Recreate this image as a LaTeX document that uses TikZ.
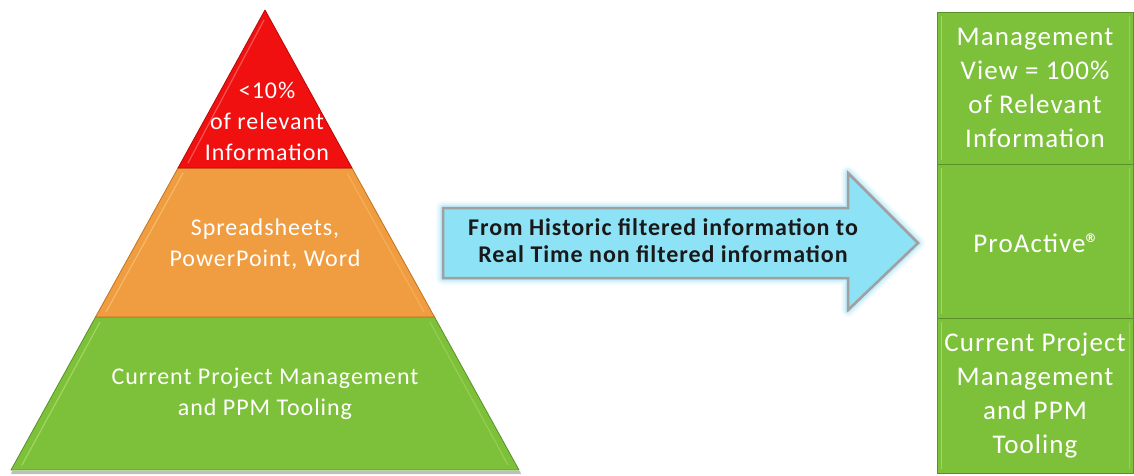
\documentclass[tikz,border=0pt]{standalone}
\usepackage{fontspec}
\setmainfont{Carlito}[LetterSpace=4]
\newfontfamily\symfont{DejaVu Sans}
\definecolor{redL}{HTML}{F01010}
\definecolor{redD}{HTML}{B80808}
\definecolor{oraL}{HTML}{F09C40}
\definecolor{oraD}{HTML}{C07420}
\definecolor{oraH}{HTML}{F8C878}
\definecolor{grnL}{HTML}{7DC03A}
\definecolor{grnD}{HTML}{5A9028}
\definecolor{grnH}{HTML}{B4E070}
\definecolor{arrF}{HTML}{8EE2F6}
\definecolor{arrG}{HTML}{5CC8F0}
\definecolor{arrB}{HTML}{A0A0A0}
\begin{document}
\begin{tikzpicture}[x=1pt,y=-1pt,
  layer/.style={line width=0.8pt,line join=round},
  bevel/.style={line width=1.2pt,opacity=0.7,line join=round},
  lbl/.style={text=white,font=\fontsize{24}{31}\selectfont,align=center,inner sep=0pt},
  boxlbl/.style={text=white,font=\fontsize{27}{34}\selectfont,align=center,inner sep=0pt},
  arrlbl/.style={text=black!90,font=\bfseries\fontsize{24}{27}\selectfont,align=center,inner sep=0pt},
  gbox/.style={fill=grnL,draw=grnD,line width=1pt}]
\useasboundingbox (0,0) rectangle (1134,475);
% pyramid shadow
\fill[black,opacity=0.25] (12,471) -- (520,471) -- (521,474) -- (11,474) -- cycle;
% layers
\draw[layer,fill=grnL,draw=grnD] (95.5,317) -- (434.5,317) -- (519,470) -- (11,470) -- cycle;
\draw[bevel,draw=grnH] (100,322) -- (22,465);
\draw[bevel,draw=grnH!60!grnL] (430,322) -- (508,465);
\draw[layer,fill=oraL,draw=oraD] (178,168) -- (352,168) -- (434.5,317) -- (95.5,317) -- cycle;
\draw[bevel,draw=oraH] (183,173) -- (106,312);
\draw[bevel,draw=oraH!60!oraL] (347,173) -- (424,312);
\draw[layer,fill=redL,draw=redD] (265,10) -- (352,168) -- (178,168) -- cycle;
\draw[bevel,draw=red!40!white,opacity=0.5] (264,20) -- (188,163);
% pyramid texts
\node[lbl] (t1) at (267,121) {<10\%\\of relevant\\Information};
\node[lbl] (t2) at (265,244) {Spreadsheets,\\PowerPoint, Word};
\node[lbl] (t3) at (265,394) {Current Project Management\\and PPM Tooling};
% arrow glow
\foreach \w/\o in {14/0.08,10/0.12,6/0.18,3/0.25}{
  \draw[arrG,line width=\w pt,opacity=\o,line join=round]
    (443,208) -- (848,208) -- (848,173) -- (918,243) -- (848,310) -- (848,278) -- (443,278) -- cycle;}
\draw[fill=arrF,draw=arrB,line width=2.5pt,line join=miter]
    (443,208) -- (848,208) -- (848,173) -- (918,243) -- (848,310) -- (848,278) -- (443,278) -- cycle;
\node[arrlbl] (at) at (663,241) {From Historic filtered information to\\Real Time non filtered information};
% right boxes
\draw[gbox] (937,12) rectangle (1133,164);
\draw[gbox] (937,164) rectangle (1133,318);
\draw[gbox] (937,318) rectangle (1133,473);
\foreach \a/\b in {12/164,164/318,318/473}{
  \draw[grnH,line width=1pt,opacity=0.7] (941,\a+4) -- (941,\b-4);
  \draw[grnH,line width=1pt,opacity=0.5] (1129,\a+4) -- (1129,\b-4);}
\node[boxlbl] (b1) at (1035,88) {Management\\View = 100\%\\of Relevant\\Information};
\node[boxlbl] (b2) at (1035,243) {ProActive\kern-1pt\raisebox{0.38em}{\symfont\bfseries\fontsize{12}{12}\selectfont ®}};
\node[boxlbl] (b3) at (1035,396) {Current Project\\Management\\and PPM\\Tooling};
\end{tikzpicture}
\end{document}
